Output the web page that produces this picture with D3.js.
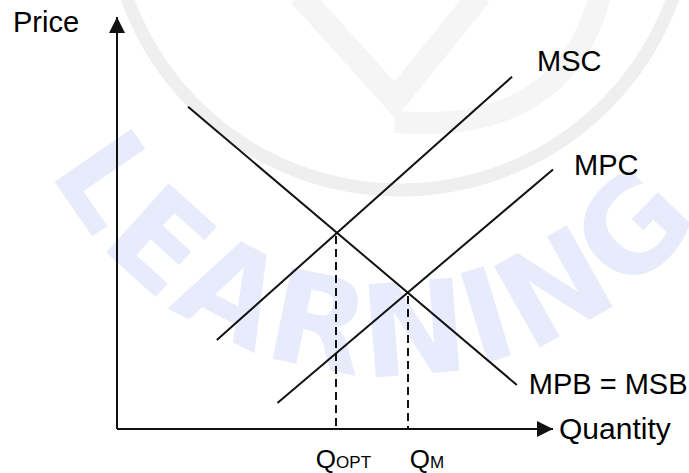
<!DOCTYPE html>
<html>
<head>
<meta charset="utf-8">
<script src="https://cdn.jsdelivr.net/npm/d3@7"></script>
<style>
  body { margin: 0; background: #fff; }
  svg text { font-family: "Liberation Sans", Arial, Helvetica, sans-serif; }
</style>
</head>
<body>
<div id="root"></div>
<script>
const width = 689;
const height = 473;

// curves as [quantity, price] end points (arbitrary units 0..10)
const curveNames = ['MPB = MSB', 'MSC', 'MPC'];
const mpb = [[1.63, 7.82], [9.17, 1.07]];
const msc = [[2.29, 2.16], [9.06, 8.55]];
const mpc = [[3.68, 0.63], [10.0, 6.30]];

// equilibrium points (quantity, price)
const qLabels = ['OPT', 'M'];
const qValues = [5.02, 6.67];
const pValues = [4.76, 3.30];

const x = d3.scaleLinear().domain([0, 10]).range([117, 553]);
const y = d3.scaleLinear().domain([0, 10]).range([429, 17]);

const svg = d3.select('#root')
    .append('svg')
    .attr('width', width)
    .attr('height', height);

// faint watermark behind the chart
const wm = svg.append('g');
wm.append('circle')
    .attr('cx', 400).attr('cy', -100).attr('r', 290)
    .attr('fill', 'none')
    .attr('stroke', '#efefef')
    .attr('stroke-width', 13);
wm.append('path')
    .attr('d', 'M300,-5 L395,100 L480,-5')
    .attr('fill', 'none')
    .attr('stroke', '#f5f5f5')
    .attr('stroke-width', 24);
wm.append('path')
    .attr('d', 'M395,122 Q565,135 600,-5')
    .attr('fill', 'none')
    .attr('stroke', '#f5f5f5')
    .attr('stroke-width', 22);

const cx = 390, cy = -10, r = 385;
const a0 = 152 * Math.PI / 180, a1 = 26 * Math.PI / 180;
wm.append('path')
    .attr('id', 'wmArc')
    .attr('fill', 'none')
    .attr('d', `M${cx + r * Math.cos(a0)},${cy + r * Math.sin(a0)} A${r},${r} 0 0 0 ${cx + r * Math.cos(a1)},${cy + r * Math.sin(a1)}`);
wm.append('text')
    .attr('font-size', 128)
    .attr('font-weight', 'bold')
    .style('font-family', '"DejaVu Sans", sans-serif')
    .attr('fill', '#e8ebfb')
    .attr('letter-spacing', 6)
    .append('textPath')
    .attr('href', '#wmArc')
    .text('LEARNING');

// axes with arrow heads
svg.append('defs').append('marker')
    .attr('id', 'arrow')
    .attr('viewBox', '0 0 16 16')
    .attr('refX', 16).attr('refY', 8)
    .attr('markerWidth', 16).attr('markerHeight', 16)
    .attr('markerUnits', 'userSpaceOnUse')
    .attr('orient', 'auto')
    .append('path')
    .attr('d', 'M0,0 L16,8 L0,16 Z')
    .attr('fill', '#111');

svg.append('path')
    .attr('d', `M${x(0)},${y(0)} L${x(0)},${y(10)}`)
    .attr('stroke', '#111').attr('stroke-width', 2)
    .attr('marker-end', 'url(#arrow)');
svg.append('path')
    .attr('d', `M${x(0)},${y(0)} L${x(10)},${y(0)}`)
    .attr('stroke', '#111').attr('stroke-width', 2)
    .attr('marker-end', 'url(#arrow)');

// dashed drop lines
svg.selectAll('.drop')
    .data(qValues)
    .join('line')
    .attr('class', 'drop')
    .attr('x1', d => Math.round(x(d))).attr('x2', d => Math.round(x(d)))
    .attr('y1', (d, i) => y(pValues[i]) + 3)
    .attr('y2', y(0))
    .attr('stroke', '#111')
    .attr('stroke-width', 2)
    .attr('stroke-dasharray', '8,5');

// curves
const line = d3.line().x(d => x(d[0])).y(d => y(d[1]));
svg.selectAll('.curve')
    .data([mpb, msc, mpc])
    .join('path')
    .attr('class', 'curve')
    .attr('d', line)
    .attr('fill', 'none')
    .attr('stroke', '#111')
    .attr('stroke-width', 2);

// labels
const fs = 29;
svg.append('text').attr('x', 13).attr('y', 32).attr('font-size', fs).text('Price');
svg.append('text').attr('x', x(10) + 6).attr('y', y(0) + 10).attr('font-size', 30).text('Quantity');

svg.append('text')
    .attr('x', x(mpb[1][0]) + 12).attr('y', y(mpb[1][1]) + 9)
    .attr('font-size', fs).text(curveNames[0]);
svg.append('text')
    .attr('x', x(msc[1][0]) + 25).attr('y', y(msc[1][1]) - 6)
    .attr('font-size', fs).text(curveNames[1]);
svg.append('text')
    .attr('x', x(mpc[1][0]) + 21).attr('y', y(mpc[1][1]) + 6)
    .attr('font-size', fs).text(curveNames[2]);

const ql = svg.selectAll('.qlab')
    .data(qValues)
    .join('text')
    .attr('class', 'qlab')
    .attr('x', (d, i) => x(d) + (i === 0 ? -20 : 2))
    .attr('y', 468)
    .attr('font-size', 26);
ql.append('tspan').text('Q');
ql.append('tspan').attr('font-size', 17).text((d, i) => qLabels[i]);
</script>
</body>
</html>
